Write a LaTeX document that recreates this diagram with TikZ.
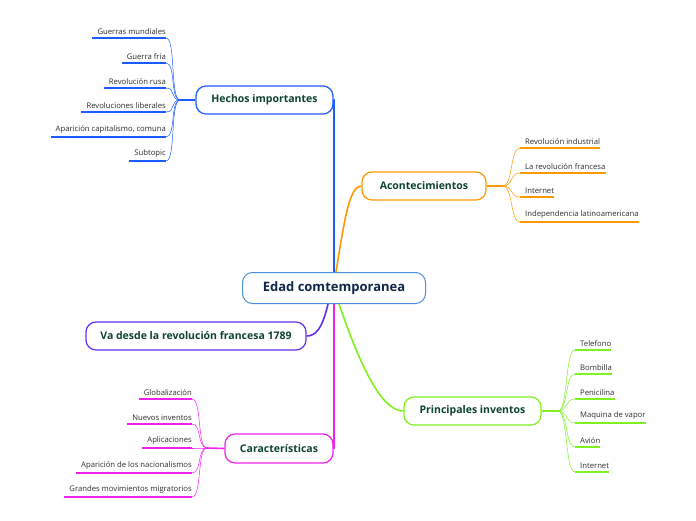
\documentclass[tikz,border=0pt]{standalone}
\usepackage{fontspec}
\setmainfont{Open Sans}
\usetikzlibrary{positioning,calc}
\definecolor{ink}{RGB}{45,45,45}
\definecolor{navy}{RGB}{16,38,74}
\definecolor{deepgreen}{RGB}{14,66,50}
\definecolor{rootframe}{RGB}{74,144,217}
\definecolor{hechosblue}{RGB}{28,92,255}
\definecolor{acontorange}{RGB}{255,153,0}
\definecolor{vapurple}{RGB}{102,44,240}
\definecolor{caractmag}{RGB}{238,34,238}
\definecolor{inventgreen}{RGB}{128,240,32}
\tikzset{
  root/.style={draw=rootframe, fill=white, rounded corners=10pt, line width=1pt,
    minimum width=183pt, minimum height=31pt, inner sep=0pt,
    font=\fontsize{13}{15}\selectfont\bfseries, text=navy},
  topic/.style={fill=white, rounded corners=10pt, line width=1.2pt, inner sep=0pt,
    minimum height=28pt, font=\fontsize{10.5}{12}\selectfont\bfseries, text=deepgreen},
  leafl/.style={anchor=south east, inner xsep=0pt, inner ysep=3pt,
    font=\fontsize{7.7}{9}\selectfont, text=ink},
  leafr/.style={anchor=south west, inner xsep=0pt, inner ysep=3pt,
    font=\fontsize{7.7}{9}\selectfont, text=ink},
  under/.style={line width=2pt},
  twig/.style={line width=0.5pt},
  trunk/.style={line width=1.6pt},
}

\begin{document}
\begin{tikzpicture}[x=1pt,y=-1pt]
  \useasboundingbox (0,0) rectangle (696,520);
  % central topic and main branches
  \node[root] (root) at (334,288) {Edad comtemporanea};
  \node[topic, draw=hechosblue, minimum width=137pt] (hechos) at (264.5,100) {Hechos importantes};
  \node[topic, draw=acontorange, minimum width=124pt] (acont) at (424,186) {Acontecimientos};
  \node[topic, draw=vapurple, minimum width=220pt] (vadesde) at (196,336) {Va desde la revolución francesa 1789};
  \node[topic, draw=caractmag, minimum width=108pt, minimum height=29pt] (caract) at (279,448.5) {Características};
  \node[topic, draw=inventgreen, minimum width=137pt] (invent) at (472.5,411) {Principales inventos};

  \draw[trunk, hechosblue] (root.north) |- (hechos.east);
  \draw[trunk, caractmag] (root.south) |- (caract.east);
  \draw[trunk, acontorange] ($(root.north)+(2,0)$) .. controls (345,215) and (350,186) .. (acont.west);
  \draw[trunk, vapurple] ($(root.south)+(-6,0)$) .. controls (322,330) and (315,336) .. (vadesde.east);
  \draw[trunk, inventgreen] ($(root.south)+(5,0)$) .. controls (365,380) and (385,411) .. (invent.west);

  % forks
  \coordinate (hechosfork) at (180,100);
  \coordinate (acontfork) at (503,186);
  \coordinate (inventfork) at (558,411);
  \coordinate (caractfork) at (207,448);
  \draw[trunk, hechosblue] (hechos.west) -- (hechosfork);
  \draw[trunk, acontorange] (acont.east) -- (acontfork);
  \draw[trunk, inventgreen] (invent.east) -- (inventfork);
  \draw[trunk, caractmag] (caract.west) -- (caractfork);

  % Hechos importantes
  \node[leafl] (h1) at (166,38) {Guerras mundiales};
  \node[leafl] (h2) at (166,63) {Guerra fria};
  \node[leafl] (h3) at (166,88) {Revolución rusa};
  \node[leafl] (h4) at (166,112) {Revoluciones liberales};
  \node[leafl] (h5) at (166,137) {Aparición capitalismo, comuna};
  \node[leafl] (h6) at (166,161) {Subtopic};
  \foreach \n in {h1,h2,h3,h4,h5,h6} {
    \draw[under, hechosblue] ($(\n.south west)+(-5,0)$) -- (\n.south east);
    \draw[twig, hechosblue] (hechosfork) .. controls +(-10,0) and +(10,0) .. (\n.south east);
  }

  % Acontecimientos
  \node[leafr] (a1) at (525,148) {Revolución industrial};
  \node[leafr] (a2) at (525,173) {La revolución francesa};
  \node[leafr] (a3) at (525,197) {Internet};
  \node[leafr] (a4) at (525,222) {Independencia latinoamericana};
  \foreach \n in {a1,a2,a3,a4} {
    \draw[under, acontorange] ($(\n.south west)+(-5,0)$) -- (\n.south east);
    \draw[twig, acontorange] (acontfork) .. controls +(10,0) and +(-10,0) .. ($(\n.south west)+(-5,0)$);
  }

  % Principales inventos
  \node[leafr] (p1) at (580,350) {Telefono};
  \node[leafr] (p2) at (580,374) {Bombilla};
  \node[leafr] (p3) at (580,399) {Penicilina};
  \node[leafr] (p4) at (580,423) {Maquina de vapor};
  \node[leafr] (p5) at (580,447) {Avión};
  \node[leafr] (p6) at (580,472) {Internet};
  \foreach \n in {p1,p2,p3,p4,p5,p6} {
    \draw[under, inventgreen] ($(\n.south west)+(-5,0)$) -- (\n.south east);
    \draw[twig, inventgreen] (inventfork) .. controls +(10,0) and +(-10,0) .. ($(\n.south west)+(-5,0)$);
  }

  % Caracteristicas
  \node[leafl] (c1) at (192,399) {Globalización};
  \node[leafl] (c2) at (192,424) {Nuevos inventos};
  \node[leafl] (c3) at (192,448) {Aplicaciones};
  \node[leafl] (c4) at (192,473) {Aparición de los nacionalismos};
  \node[leafl] (c5) at (192,497) {Grandes movimientos migratorios};
  \foreach \n in {c1,c2,c3,c4,c5} {
    \draw[under, caractmag] ($(\n.south west)+(-5,0)$) -- (\n.south east);
    \draw[twig, caractmag] (caractfork) .. controls +(-10,0) and +(10,0) .. (\n.south east);
  }
\end{tikzpicture}
\end{document}
